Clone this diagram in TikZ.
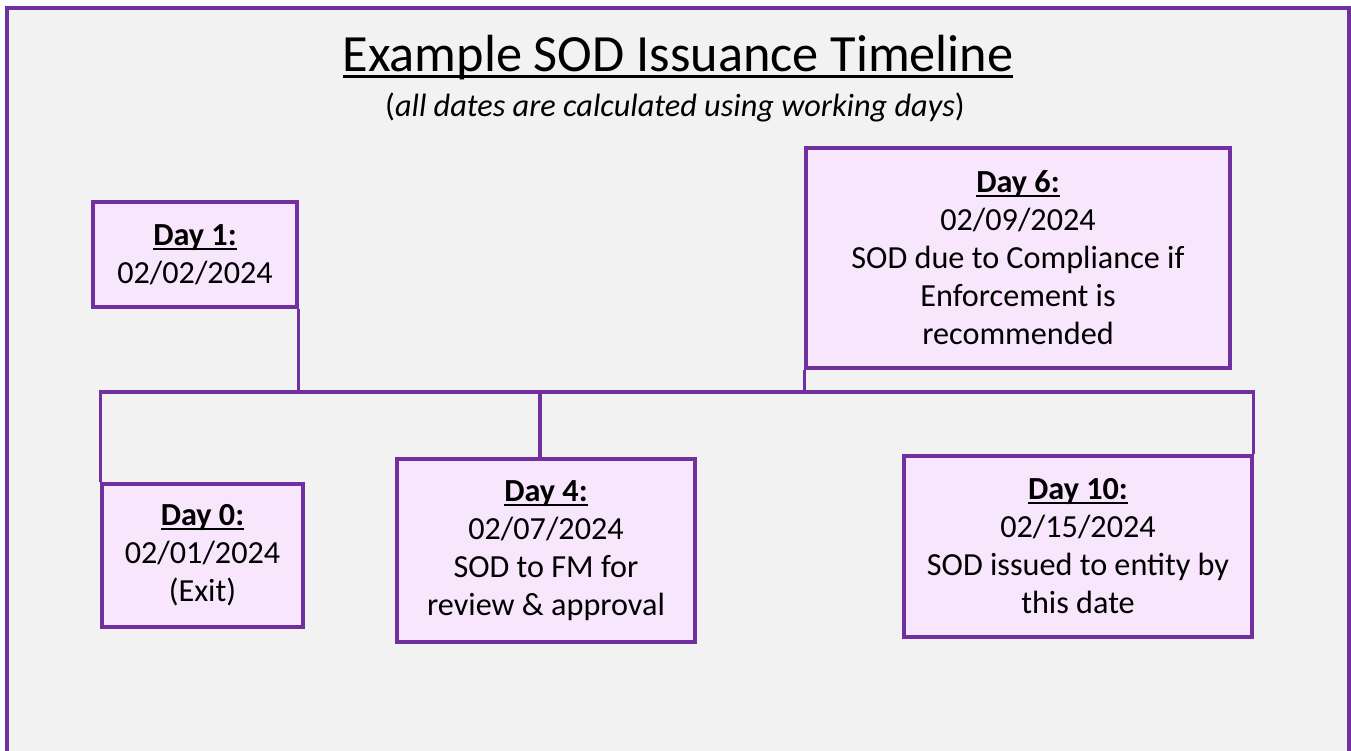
\documentclass[tikz,border=0pt]{standalone}
\usepackage{fontspec}
\setmainfont{Carlito}
\definecolor{frame}{HTML}{7030A0}
\definecolor{boxfill}{HTML}{F8E6FC}
\definecolor{bg}{HTML}{F2F2F2}
\newcommand\myul[2][0.14em]{\setbox0\hbox{#2}\rlap{\rule[-#1]{\wd0}{0.065em}}\box0}
\tikzset{
  daybox/.style={draw=frame, fill=boxfill, line width=3.2pt, inner sep=0pt, align=center,
    font=\fontsize{32.2}{38}\selectfont},
  link/.style={draw=frame, line width=3.2pt},
}
\begin{document}
\begin{tikzpicture}[x=1pt,y=-1pt]
\useasboundingbox (0,0) rectangle (1351,751);
\clip (0,0) rectangle (1351,751);
\fill[white] (0,0) rectangle (1351,751);
\fill[bg] (6.5,8.5) rectangle (1349,780);
\draw[frame, line width=4pt] (6.5,8.5) rectangle (1349,780);

\node[anchor=base, font=\fontsize{52.3}{60}\selectfont] (title) at (678,72) {\myul[0.12em]{Example SOD Issuance Timeline}};
\node[anchor=base, font=\fontsize{32.3}{38}\selectfont] (sub) at (675,117) {(\textit{all dates are calculated using working days})};

\node[daybox, minimum width=204pt, minimum height=105pt] (d1) at (195,254.5)
  {\textbf{\myul{Day 1:}}\\02/02/2024};
\node[daybox, minimum width=201pt, minimum height=143pt] (d0) at (202.5,555.5)
  {\textbf{\myul{Day 0:}}\\02/01/2024\\(Exit)};
\node[daybox, minimum width=298pt, minimum height=183pt] (d4) at (546,550.5)
  {\textbf{\myul{Day 4:}}\\02/07/2024\\SOD to FM for\\review \& approval};
\node[daybox, minimum width=424pt, minimum height=220pt] (d6) at (1018,258)
  {\textbf{\myul{Day 6:}}\\02/09/2024\\SOD due to Compliance if\\Enforcement is\\recommended};
\node[daybox, minimum width=348pt, minimum height=181pt] (d10) at (1078,546.5)
  {\textbf{\myul{Day 10:}}\\02/15/2024\\SOD issued to entity by\\this date};

\coordinate (bus) at (0,392);
\coordinate (d4top) at ([xshift=-6pt]d4.north);
\draw[link, line cap=rect] (d0.north west |- bus) -- (d10.north east |- bus);
\draw[link] (d0.north west) -- (d0.north west |- bus);
\draw[link] (d1.south east) -- (d1.south east |- bus);
\draw[link] (d4top) -- (d4top |- bus);
\draw[link] (d6.south west) -- (d6.south west |- bus);
\draw[link] (d10.north east) -- (d10.north east |- bus);
\end{tikzpicture}
\end{document}
